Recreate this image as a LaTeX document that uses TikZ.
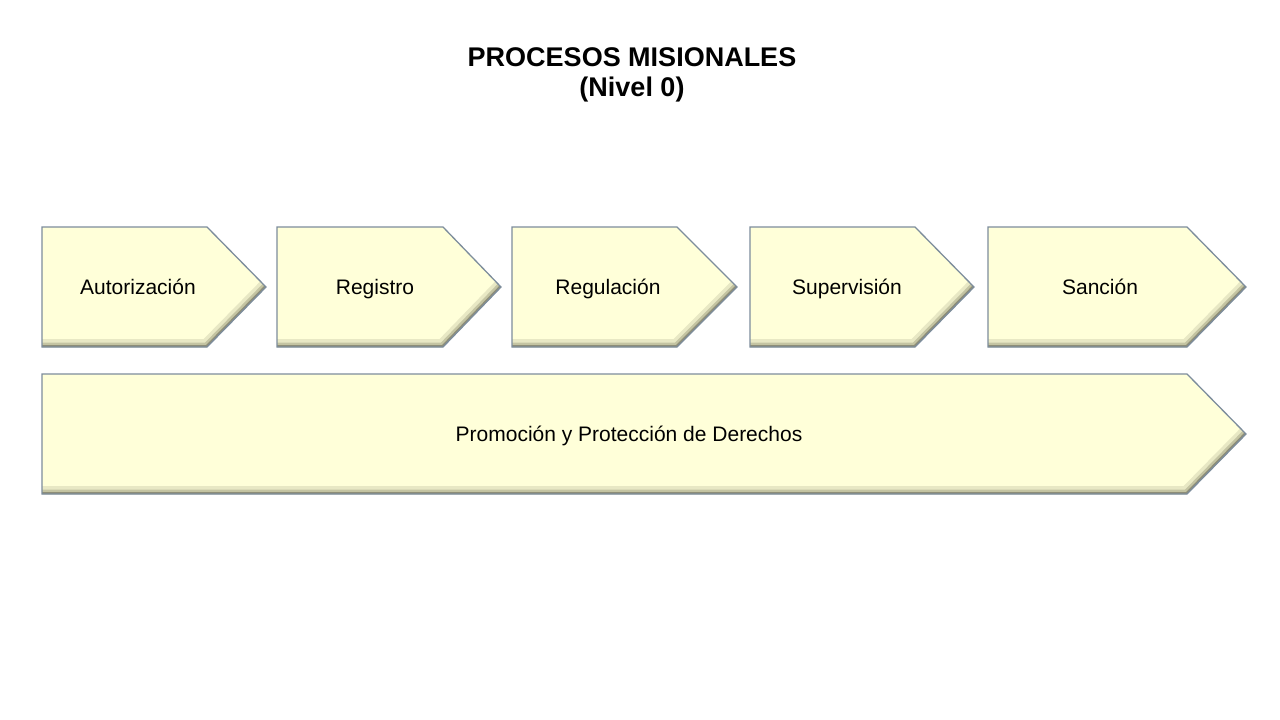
\documentclass[tikz,border=0pt]{standalone}
\usepackage{fontspec}
\setmainfont{Liberation Sans}
\definecolor{boxfill}{HTML}{FFFFD9}
\definecolor{boxedge}{HTML}{7D8D9C}
\definecolor{bevA}{HTML}{E8E8C4}
\definecolor{bevB}{HTML}{C4C4A2}
\definecolor{bevC}{HTML}{8E8E78}
\tikzset{
  boxtext/.style={font=\fontsize{21}{25}\selectfont, text=black, inner sep=0pt, text height=15pt, text depth=0pt, anchor=center},
  titletext/.style={font=\bfseries\fontsize{27}{33}\selectfont, text=black, inner sep=0pt, anchor=center},
}
\newcommand\drawchevron[5]{% x1 x2 x3 ytop ybot
  \begin{scope}
    \clip (#1,#4) -- (#2,#4) -- (#3,{(#4+#5)/2}) -- (#2,#5) -- (#1,#5) -- cycle;
    \fill[boxfill] (#1,#4) rectangle (#3,#5);
    \draw[bevA, line width=16pt] (#1,#5) -- (#2,#5) -- (#3,{(#4+#5)/2});
    \draw[bevB, line width=9pt] (#1,#5) -- (#2,#5) -- (#3,{(#4+#5)/2});
    \draw[bevC, line width=4pt] (#1,#5) -- (#2,#5) -- (#3,{(#4+#5)/2});
  \end{scope}
  \draw[boxedge, line width=1.3pt, line join=miter] (#1,#4) -- (#2,#4) -- (#3,{(#4+#5)/2}) -- (#2,#5) -- (#1,#5) -- cycle;
}
\begin{document}
\begin{tikzpicture}[x=1pt,y=-1pt]
  \useasboundingbox (0,0) rectangle (1280,720);
  \fill[white] (0,0) rectangle (1280,720);

  \node[titletext] (title1) at (632,57) {PROCESOS MISIONALES};
  \node[titletext] (title2) at (632,90) {(Nivel 0)};

  \drawchevron{42}{207}{266}{227}{347}
  \drawchevron{277}{443}{501}{227}{347}
  \drawchevron{512}{677}{737}{227}{347}
  \drawchevron{750}{915}{974}{227}{347}
  \drawchevron{988}{1187}{1246}{227}{347}
  \drawchevron{42}{1187}{1246}{374}{494}

  \node[boxtext] (autorizacion) at (138,287) {Autorización};
  \node[boxtext] (registro) at (375,287) {Registro};
  \node[boxtext] (regulacion) at (608,287) {Regulación};
  \node[boxtext] (supervision) at (847,287) {Supervisión};
  \node[boxtext] (sancion) at (1100,287) {Sanción};
  \node[boxtext] (promocion) at (629,434) {Promoción y Protección de Derechos};
\end{tikzpicture}
\end{document}
